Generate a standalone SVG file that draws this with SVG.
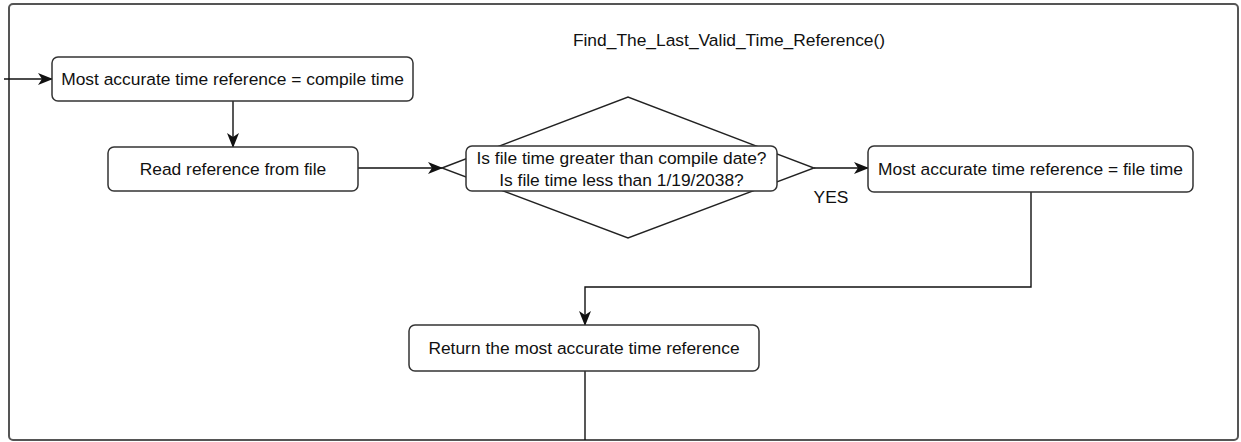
<svg xmlns="http://www.w3.org/2000/svg" width="1241" height="442" viewBox="0 0 1241 442">
<defs>
<style>
.box{fill:#fff;stroke:#333;stroke-width:1.5}
.frame{fill:#fff;stroke:#555;stroke-width:2}
.t{font-family:"Liberation Sans",Arial,sans-serif;font-size:17.4px;fill:#111;text-anchor:middle}
.c{fill:none;stroke:#111;stroke-width:1.4}
</style>
<marker id="arr" viewBox="0 0 15 12" refX="14" refY="6" markerWidth="15" markerHeight="12" markerUnits="userSpaceOnUse" orient="auto">
<path d="M0,0 L15,6 L0,12 L4,6 z" fill="#111"/>
</marker>
</defs>
<rect width="1241" height="442" fill="#fff"/>
<g id="container">
<rect class="frame" x="9" y="4" width="1229" height="436" rx="4"/>
<text class="t" x="729" y="46">Find_The_Last_Valid_Time_Reference()</text>
</g>
<g id="connectors">
<line class="c" x1="4" y1="79" x2="52" y2="79" marker-end="url(#arr)"/>
<line class="c" x1="233" y1="101" x2="233" y2="147" marker-end="url(#arr)"/>
<line class="c" x1="358" y1="168" x2="442" y2="168" marker-end="url(#arr)"/>
<line class="c" x1="814" y1="168" x2="868" y2="168" marker-end="url(#arr)"/>
<polyline class="c" points="1031,192 1031,287 585,287 585,325" marker-end="url(#arr)"/>
<line class="c" x1="585" y1="371" x2="585" y2="440"/>
<text class="t" x="831" y="203">YES</text>
</g>
<g id="n1">
<rect class="box" x="52" y="57" width="361" height="44" rx="6"/>
<text class="t" x="232.5" y="85">Most accurate time reference = compile time</text>
</g>
<g id="n2">
<rect class="box" x="108" y="147" width="250" height="44" rx="6"/>
<text class="t" x="233" y="175">Read reference from file</text>
</g>
<g id="n3">
<polygon points="442,168 628,97 814,168 628,238" fill="#fff" stroke="#222" stroke-width="1.4"/>
<rect class="box" x="466" y="146" width="311" height="45" rx="6"/>
<text class="t" x="621.5" y="164">Is file time greater than compile date?</text>
<text class="t" x="621.5" y="186">Is file time less than 1/19/2038?</text>
</g>
<g id="n4">
<rect class="box" x="868" y="146" width="325" height="46" rx="6"/>
<text class="t" x="1030.5" y="175">Most accurate time reference = file time</text>
</g>
<g id="n5">
<rect class="box" x="409" y="325" width="350" height="46" rx="6"/>
<text class="t" x="584" y="354">Return the most accurate time reference</text>
</g>
</svg>
